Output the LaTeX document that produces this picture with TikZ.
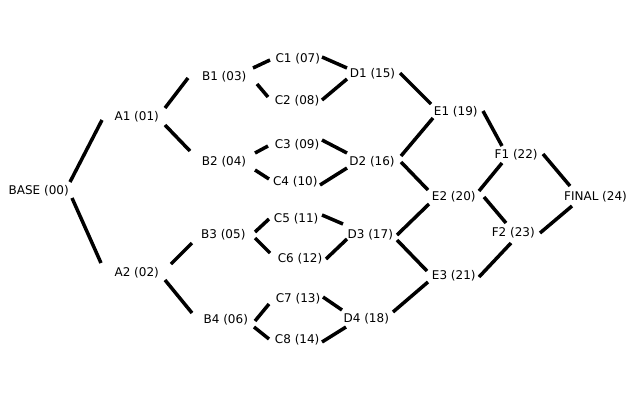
\documentclass[tikz,border=0pt]{standalone}
\usepackage{fontspec}
\setmainfont{DejaVu Sans}
\usetikzlibrary{calc}
\tikzset{
  lbl/.style={inner sep=0pt, font=\fontsize{12}{14}\selectfont},
  edgeline/.style={draw=black, line width=3.5pt}
}
\newcommand\myedge[6]{\draw[edgeline] ($(#1)+(#2,#3)$) -- ($(#4)+(#5,#6)$);}
\begin{document}
\begin{tikzpicture}[x=1pt,y=1pt]
\useasboundingbox[fill=white] (0,0) rectangle (640,-400);
\node[lbl] (BASE)  at (38.7,-191)   {BASE (00)};
\node[lbl] (A1)    at (136.7,-117.2) {A1 (01)};
\node[lbl] (A2)    at (136.7,-272.5) {A2 (02)};
\node[lbl] (B1)    at (224.2,-76.5) {B1 (03)};
\node[lbl] (B2)    at (224,-161.3)  {B2 (04)};
\node[lbl] (B3)    at (223.3,-234.3) {B3 (05)};
\node[lbl] (B4)    at (225.8,-320)  {B4 (06)};
\node[lbl] (C1)    at (297.8,-59)   {C1 (07)};
\node[lbl] (C2)    at (297,-101)    {C2 (08)};
\node[lbl] (C3)    at (297,-145)    {C3 (09)};
\node[lbl] (C4)    at (295.3,-181.7) {C4 (10)};
\node[lbl] (C5)    at (296.2,-218.7) {C5 (11)};
\node[lbl] (C6)    at (300,-258.7)  {C6 (12)};
\node[lbl] (C7)    at (298,-298.7)  {C7 (13)};
\node[lbl] (C8)    at (297.2,-340)  {C8 (14)};
\node[lbl] (D1)    at (372.5,-73.8) {D1 (15)};
\node[lbl] (D2)    at (372,-162)    {D2 (16)};
\node[lbl] (D3)    at (370.3,-234.7) {D3 (17)};
\node[lbl] (D4)    at (366.3,-318.7) {D4 (18)};
\node[lbl] (E1)    at (455.8,-111.3) {E1 (19)};
\node[lbl] (E2)    at (453.8,-197)  {E2 (20)};
\node[lbl] (E3)    at (453.8,-275.7) {E3 (21)};
\node[lbl] (F1)    at (516.2,-154.3) {F1 (22)};
\node[lbl] (F2)    at (513.3,-232.3) {F2 (23)};
\node[lbl] (FINAL) at (595.5,-196.5) {FINAL (24)};
% edges
\myedge{BASE}{31.3}{9}{A1}{-34.7}{-2.8}
\myedge{BASE}{33.3}{-7}{A2}{-35.7}{9.5}
\myedge{A1}{28.3}{9.2}{B1}{-36.2}{-1.5}
\myedge{A1}{28.3}{-7.8}{B2}{-34}{10.3}
\myedge{A2}{34.3}{8.5}{B3}{-31.3}{-8.7}
\myedge{A2}{28.3}{-7.5}{B4}{-33.8}{7}
\myedge{B1}{28.8}{8.5}{C1}{-27.8}{-1}
\myedge{B1}{32.8}{-7.5}{C2}{-29}{4}
\myedge{B2}{31}{8.3}{C3}{-29}{-1}
\myedge{B2}{31}{-8.7}{C4}{-26.3}{2.7}
\myedge{B3}{31.7}{2.3}{C5}{-27.2}{-0.3}
\myedge{B3}{31.7}{-3.7}{C6}{-30}{5.7}
\myedge{B4}{29.2}{-1}{C7}{-29}{-5.3}
\myedge{B4}{28.2}{-7}{C8}{-28.2}{1}
\myedge{C1}{24.2}{2}{D1}{-25.5}{5.8}
\myedge{C2}{25}{1}{D1}{-25.5}{-5.2}
\myedge{C3}{25}{5}{D2}{-25}{9}
\myedge{C4}{24.7}{-3.3}{D2}{-25}{-6}
\myedge{C5}{25.8}{3.7}{D3}{-27.3}{10.7}
\myedge{C6}{26}{-0.3}{D3}{-23.3}{-4.3}
\myedge{C7}{25}{1.7}{D4}{-24.3}{8.7}
\myedge{C8}{24.8}{-2}{D4}{-20.3}{-8.3}
\myedge{D1}{27.5}{0.8}{E1}{-24.8}{7.3}
\myedge{D2}{29}{6}{E1}{-22.8}{-6.7}
\myedge{D2}{29}{0}{E2}{-25.8}{7}
\myedge{D3}{26.7}{-0.3}{E2}{-24.8}{-7}
\myedge{D3}{26.7}{-5.3}{E3}{-26.8}{4.7}
\myedge{D4}{26.7}{6.7}{E3}{-25.8}{-6.3}
\myedge{E1}{27.2}{0.3}{F1}{-14.2}{8.3}
\myedge{E2}{25.2}{6}{F1}{-14.2}{-8.7}
\myedge{E2}{30.2}{0}{F2}{-7.3}{9.3}
\myedge{E3}{25.2}{-1.3}{F2}{-2.3}{-10.7}
\myedge{F1}{26.8}{0.3}{FINAL}{-25.5}{10.5}
\myedge{F2}{26.7}{-0.7}{FINAL}{-23.5}{-9.5}
\end{tikzpicture}
\end{document}
